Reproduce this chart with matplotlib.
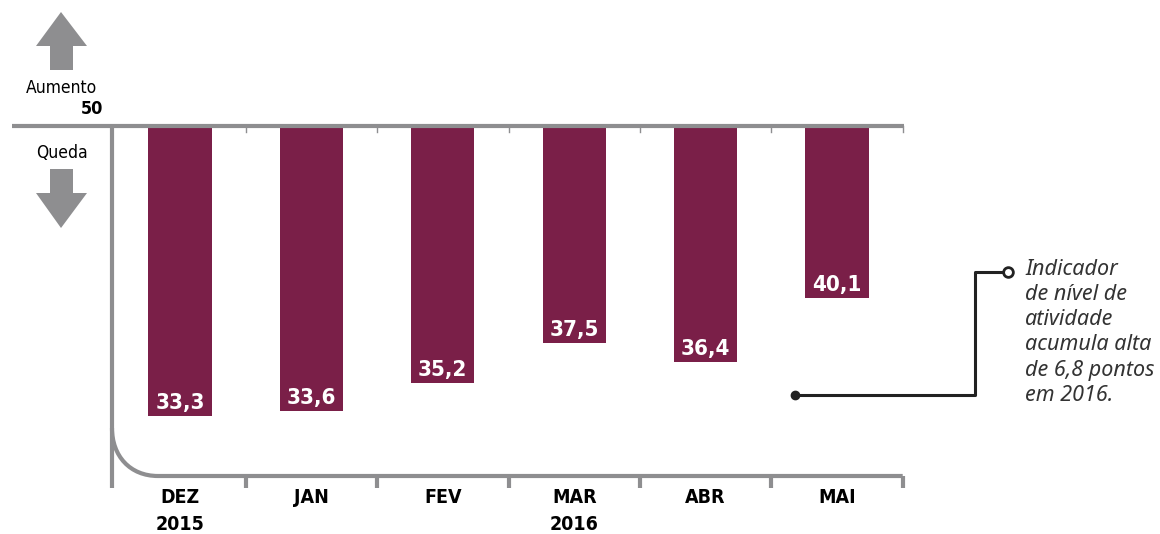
import matplotlib.pyplot as plt
from matplotlib.patches import Polygon
from matplotlib.path import Path
from matplotlib.patches import PathPatch
import numpy as np

months = ['DEZ\n2015', 'JAN', 'FEV', 'MAR\n2016', 'ABR', 'MAI']
values = [33.3, 33.6, 35.2, 37.5, 36.4, 40.1]
value_labels = ['33,3', '33,6', '35,2', '37,5', '36,4', '40,1']
note = 'Indicador\nde nível de\natividade\nacumula alta\nde 6,8 pontos\nem 2016.'

BAR = '#7a1f48'
GRAY = '#8e8e90'
COND = ['DejaVu Sans']

W, H = 1160, 534
fig = plt.figure(figsize=(W / 100, H / 100), dpi=100)
ax = fig.add_axes([0, 0, 1, 1])
ax.axis('off')

# map pixels -> data: x center of bar i at 180 + 131.4*i, value 50 at y=126, 17.35 px per point
step = 131.4
ppu = 17.35
ax.set_xlim(-180 / step, (W - 180) / step)
ax.set_ylim(50 - (H - 126) / ppu, 50 + 126 / ppu)


def px(x):
    return (x - 180) / step


def py(y):
    return 50 - (y - 126) / ppu


x = np.arange(len(values))
ax.bar(x, [50 - v for v in values], bottom=values, width=0.48, color=BAR, zorder=2)
for xi, v, lab in zip(x, values, value_labels):
    ax.text(xi, v + 0.38, lab, ha='center', va='baseline', color='white',
            fontsize=16, fontweight='bold', family=COND, fontstretch='condensed', zorder=3)

# top line at 50 and thin ticks
ax.plot([px(12), px(904)], [50, 50], color=GRAY, lw=3, solid_capstyle='butt', zorder=3)
bounds = x + 0.5
for b in bounds:
    ax.plot([b, b], [50, py(132)], color=GRAY, lw=1, zorder=1)

# left axis with rounded corner into baseline
x0, y0 = px(112), py(126)
yb = py(476)
verts = [(x0, y0), (x0, py(428)), (x0, py(456)), (px(130), yb), (px(158), yb), (bounds[-1], yb)]
codes = [Path.MOVETO, Path.LINETO, Path.CURVE4, Path.CURVE4, Path.CURVE4, Path.LINETO]
ax.add_patch(PathPatch(Path(verts, codes), fill=False, ec=GRAY, lw=3, zorder=3))
ax.plot([x0, x0], [py(428), py(488)], color=GRAY, lw=3, solid_capstyle='butt', zorder=3)
for b in bounds:
    ax.plot([b, b], [yb, py(488)], color=GRAY, lw=3, solid_capstyle='butt', zorder=3)

# month labels
for xi, m in zip(x, months):
    ax.text(xi, py(488), m, ha='center', va='top', fontsize=14, fontweight='bold',
            family=COND, fontstretch='condensed', linespacing=1.55)

# arrows up / down
up = [(px(36), py(46)), (px(61), py(12)), (px(87), py(46)), (px(73), py(46)),
      (px(73), py(70)), (px(50), py(70)), (px(50), py(46))]
down = [(px(50), py(169)), (px(73), py(169)), (px(73), py(193)), (px(87), py(193)),
        (px(61), py(228)), (px(36), py(193)), (px(50), py(193))]
ax.add_patch(Polygon(up, closed=True, color=GRAY, lw=0))
ax.add_patch(Polygon(down, closed=True, color=GRAY, lw=0))
ax.text(px(61), py(88), 'Aumento', ha='center', va='center', fontsize=12.5,
        family=COND, fontstretch='condensed')
ax.text(px(103), py(109), '50', ha='right', va='center', fontsize=13, fontweight='bold',
        family=COND, fontstretch='condensed')
ax.text(px(62), py(153), 'Queda', ha='center', va='center', fontsize=12.5,
        family=COND, fontstretch='condensed')

# annotation
ax.plot([px(795), px(975), px(975), px(1003)], [py(395), py(395), py(272), py(272)],
        color='#222222', lw=2.2, zorder=4)
ax.plot(px(795), py(395), 'o', ms=6, color='#222222', zorder=5)
ax.plot(px(1008), py(272), 'o', ms=7, mfc='white', mec='#222222', mew=2, zorder=5)
ax.text(px(1025), py(259), note, ha='left', va='top', fontsize=15.5, style='italic',
        color='#333333', family=['Noto Sans', 'DejaVu Sans'], linespacing=1.26)

fig.savefig('out.png', dpi=100)
